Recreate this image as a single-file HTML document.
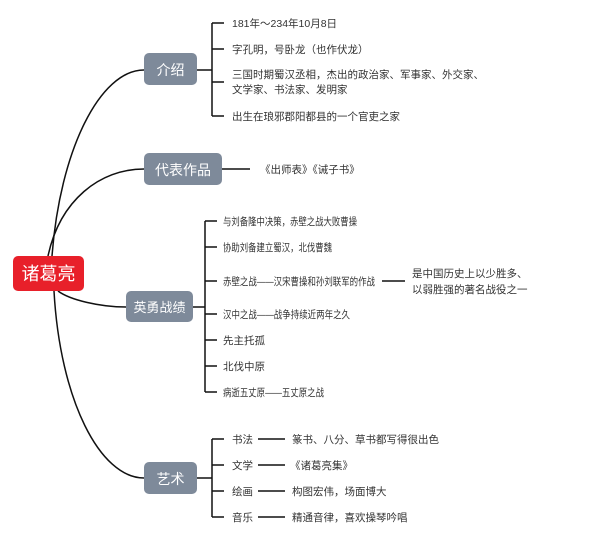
<!DOCTYPE html>
<html><head><meta charset="utf-8"><style>
body{margin:0;background:#fff}
text{font-family:"Liberation Sans","Noto Sans CJK SC",sans-serif;fill:#333;font-size:10.5px}
.w{fill:#fff;font-size:14px}
</style></head><body>
<svg width="600" height="541" viewBox="0 0 600 541" xmlns="http://www.w3.org/2000/svg">
<g fill="none" stroke="#111" stroke-width="1.5">
<path d="M52 256 C60 150,100 70,144 70"/>
<path d="M48 256 C60 200,100 169,144 169"/>
<path d="M58 291 C70 300,100 307,126 307"/>
<path d="M54 291 C60 400,100 478,144 478"/>
</g>
<g fill="none" stroke="#111" stroke-width="1.5">
<path d="M197 70H212M212 23V116M212 23H224M212 49H224M212 82H224M212 116H224"/>
<path d="M222 169H250"/>
<path d="M193 307H205M205 221V392M205 221H217M205 247H217M205 281H217M205 314H217M205 340H217M205 366H217M205 392H217M382 281H405"/>
<path d="M197 478H212M212 439V517M212 439H224M212 465H224M212 491H224M212 517H224"/>
<path d="M258 439H285M258 465H285M258 491H285M258 517H285"/>
</g>
<rect x="13" y="256" width="71" height="35" rx="5" fill="#e8202a"/>
<text x="48.5" y="280" class="w" text-anchor="middle" style="font-size:18px">诸葛亮</text>
<rect x="144" y="53" width="53" height="32" rx="5" fill="#7e8a9a"/>
<text x="170.5" y="75" class="w" text-anchor="middle">介绍</text>
<rect x="144" y="153" width="78" height="32" rx="5" fill="#7e8a9a"/>
<text x="183" y="175" class="w" text-anchor="middle">代表作品</text>
<rect x="126" y="291" width="67" height="31" rx="5" fill="#7e8a9a"/>
<text x="159.5" y="312" class="w" text-anchor="middle" style="font-size:13px">英勇战绩</text>
<rect x="144" y="462" width="53" height="32" rx="5" fill="#7e8a9a"/>
<text x="170.5" y="484" class="w" text-anchor="middle">艺术</text>

<text x="232" y="27">181年～234年10月8日</text>
<text x="232" y="53">字孔明，号卧龙（也作伏龙）</text>
<text x="232" y="78">三国时期蜀汉丞相，杰出的政治家、军事家、外交家、</text>
<text x="232" y="93">文学家、书法家、发明家</text>
<text x="232" y="120">出生在琅邪郡阳都县的一个官吏之家</text>
<text x="260" y="173">《出师表》《诫子书》</text>

<text x="223" y="225" textLength="134" lengthAdjust="spacingAndGlyphs">与刘备隆中决策，赤壁之战大败曹操</text>
<text x="223" y="251" textLength="109" lengthAdjust="spacingAndGlyphs">协助刘备建立蜀汉，北伐曹魏</text>
<text x="223" y="285" textLength="152" lengthAdjust="spacingAndGlyphs">赤壁之战——汉宋曹操和孙刘联军的作战</text>
<text x="223" y="318" textLength="127" lengthAdjust="spacingAndGlyphs">汉中之战——战争持续近两年之久</text>
<text x="223" y="344">先主托孤</text>
<text x="223" y="370">北伐中原</text>
<text x="223" y="396" textLength="101" lengthAdjust="spacingAndGlyphs">病逝五丈原——五丈原之战</text>
<text x="412" y="277">是中国历史上以少胜多、</text>
<text x="412" y="293">以弱胜强的著名战役之一</text>

<text x="232" y="443">书法</text>
<text x="232" y="469">文学</text>
<text x="232" y="495">绘画</text>
<text x="232" y="521">音乐</text>
<text x="292" y="443">篆书、八分、草书都写得很出色</text>
<text x="290" y="469">《诸葛亮集》</text>
<text x="292" y="495">构图宏伟，场面博大</text>
<text x="292" y="521">精通音律，喜欢操琴吟唱</text>
</svg>
</body></html>
